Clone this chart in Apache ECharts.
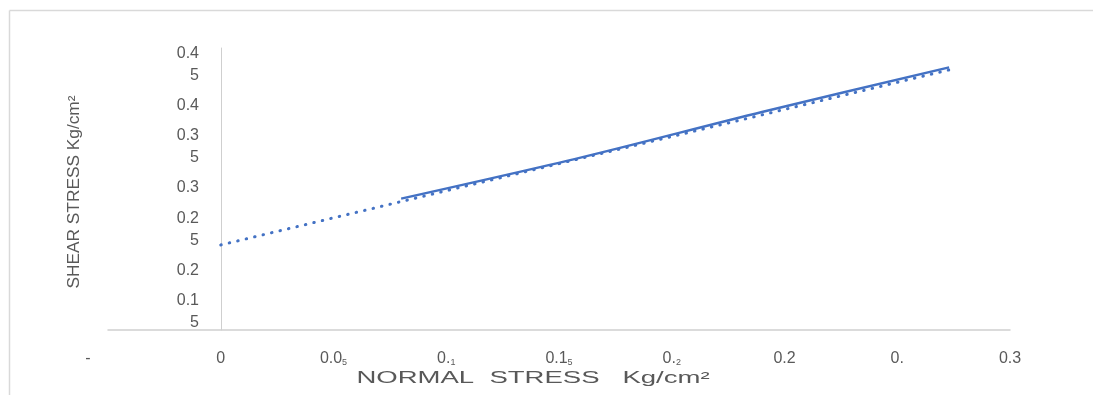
<!DOCTYPE html>
<html>
<head>
<meta charset="utf-8">
<script src="https://cdn.jsdelivr.net/npm/echarts@6/dist/echarts.min.js"></script>
<style>
html,body{margin:0;padding:0;background:#fff;overflow:hidden;}
#chart{width:1093px;height:395px;}
</style>
</head>
<body>
<div id="chart"></div>
<script>
// ---- data ----
const normalStress = [0.08, 0.16, 0.24, 0.323];
const shearStress  = [0.287, 0.337, 0.392, 0.446];
const trendNormal  = [0, 0.323];
const trendShear   = [0.231, 0.443];

const xTickValues = [-0.05, 0, 0.05, 0.1, 0.15, 0.2, 0.25, 0.3, 0.35];
const xTickLabels = ['{dash|-}', '0', '0.0{s|5}', '0.{s|1}', '0.1{s|5}', '0.{s|2}', '0.2', '0.', '0.3'];
const yTickValues = [0.15, 0.2, 0.25, 0.3, 0.35, 0.4, 0.45];
const yTickLabels = ['0.1\n5', '0.2', '0.2\n5', '0.3', '0.3\n5', '0.4', '0.4\n5'];

const xTitle = 'NORMAL  STRESS   Kg/cm²';
const yTitle = 'SHEAR STRESS Kg/cm²';

const key = v => Math.round(v * 1000);
const xMap = {}; xTickValues.forEach((v, i) => xMap[key(v)] = xTickLabels[i]);
const yMap = {}; yTickValues.forEach((v, i) => yMap[key(v)] = yTickLabels[i]);

const textColor = '#595959';
const blue = '#4472C4';
const font = 'Liberation Sans, Arial, sans-serif';

const chart = echarts.init(document.getElementById('chart'), null, {renderer: 'canvas'});
chart.setOption({
  animation: false,
  backgroundColor: '#fff',
  grid: {left: 108, right: 83, top: 48, bottom: 65, containLabel: false},
  xAxis: {
    type: 'value',
    min: -0.05, max: 0.35, interval: 0.05,
    splitLine: {show: false},
    axisTick: {show: false},
    axisLine: {show: true, lineStyle: {color: '#d0d0d0', width: 1.5}},
    axisLabel: {
      margin: 21,
      color: textColor,
      fontSize: 16,
      fontFamily: font,
      showMinLabel: true, showMaxLabel: true,
      formatter: v => (xMap[key(v)] !== undefined ? xMap[key(v)] : ''),
      rich: {
        s: {fontSize: 9, color: textColor, fontFamily: font, verticalAlign: 'bottom'},
        dash: {fontSize: 16, color: textColor, fontFamily: font, padding: [0, 40, 0, 0]}
      }
    }
  },
  yAxis: {
    type: 'value',
    min: 0.128, max: 0.4695,
    splitLine: {show: false},
    axisTick: {show: false},
    axisLine: {show: true, onZero: true, lineStyle: {color: '#cfcfcf', width: 1}},
    axisLabel: {
      customValues: yTickValues,
      margin: -91,
      color: textColor,
      fontSize: 16,
      lineHeight: 22,
      fontFamily: font,
      formatter: v => (yMap[key(v)] !== undefined ? yMap[key(v)] : '')
    }
  },
  series: [
    {
      type: 'line',
      name: 'trend',
      data: trendNormal.map((x, i) => [x, trendShear[i]]),
      symbol: 'none',
      z: 2,
      lineStyle: {color: blue, width: 3, type: [0.5, 8.2], cap: 'round'}
    },
    {
      type: 'line',
      name: 'shear',
      data: normalStress.map((x, i) => [x, shearStress[i]]),
      smooth: 0.3,
      symbol: 'none',
      z: 3,
      lineStyle: {color: blue, width: 2.4}
    }
  ],
  graphic: [
    {
      type: 'line',
      shape: {x1: 9.5, y1: 10.5, x2: 1093, y2: 10.5},
      style: {stroke: '#d9d9d9', lineWidth: 1.5},
      silent: true
    },
    {
      type: 'line',
      shape: {x1: 9.5, y1: 10.5, x2: 9.5, y2: 395},
      style: {stroke: '#d9d9d9', lineWidth: 1.5},
      silent: true
    },
    {
      type: 'text',
      x: 533, y: 379,
      scaleX: 1.72,
      style: {
        text: xTitle,
        font: '16px "Liberation Sans", Arial, sans-serif',
        fill: textColor,
        align: 'center', verticalAlign: 'middle',
        textAlign: 'center', textVerticalAlign: 'middle'
      }
    },
    {
      type: 'text',
      x: 75, y: 192,
      rotation: Math.PI / 2,
      scaleX: 1.08,
      style: {
        text: yTitle,
        font: '16px "Liberation Sans", Arial, sans-serif',
        fill: textColor,
        align: 'center', verticalAlign: 'middle',
        textAlign: 'center', textVerticalAlign: 'middle'
      }
    }
  ]
});
</script>
</body>
</html>
